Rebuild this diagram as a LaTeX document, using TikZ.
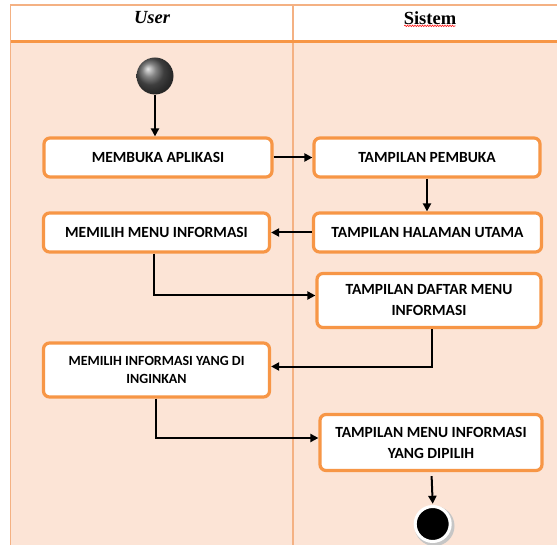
\documentclass[tikz,border=0pt]{standalone}
\usepackage{fontspec}
\setmainfont{Liberation Serif}
\newfontfamily\boxfont{Carlito}
\usetikzlibrary{arrows.meta,shadows,decorations.pathmorphing}
\definecolor{peach}{HTML}{FCE4D6}
\definecolor{lane}{HTML}{F4B183}
\definecolor{laneDark}{HTML}{F79646}
\definecolor{boxline}{HTML}{F79646}
\tikzset{
  act/.style={draw=boxline, line width=3.2pt, fill=white, rounded corners=6pt,
    font=\boxfont\bfseries\fontsize{15.5}{21}\selectfont, align=center, inner sep=0pt},
  flow/.style={draw=black, line width=2pt, -{Triangle[length=8pt,width=8pt]}},
  hdr/.style={font=\bfseries\fontsize{18.5}{20}\selectfont}
}
\begin{document}
\begin{tikzpicture}[x=1pt,y=-1pt]
\useasboundingbox (0,0) rectangle (557,545);
% lanes
\fill[peach] (10.5,42) rectangle (557,545);
\fill[white] (10.5,5) rectangle (557,42);
\draw[lane, line width=1.8pt] (10.5,545) -- (10.5,5) -- (557,5);
\draw[lane, line width=1.8pt] (293,5) -- (293,545);
\draw[laneDark, line width=2.8pt] (10.5,41.5) -- (557,41.5);
\node[hdr, font=\bfseries\itshape\fontsize{18.5}{20}\selectfont] (user) at (152,18) {User};
\node[hdr] (sistem) at (430,18) {Sistem};
\draw[red, line width=0.5pt, decorate, decoration={snake, amplitude=0.8pt, segment length=2.5pt}]
  ([yshift=-1.5pt,xshift=4pt]sistem.base west) -- ([yshift=-1.5pt,xshift=-4pt]sistem.base east);
% start
\shade[ball color=gray!70!black] (155,76) circle[radius=18.5];
\node[circle, minimum size=37pt, inner sep=0pt] (start) at (155,76) {};
% activities
\node[act, minimum width=228pt, minimum height=39pt] (a1) at (158,157.5) {MEMBUKA APLIKASI};
\node[act, minimum width=226pt, minimum height=39pt] (s1) at (427,157.5) {TAMPILAN PEMBUKA};
\node[act, minimum width=226pt, minimum height=39pt] (a2) at (156.5,232.5) {MEMILIH MENU INFORMASI};
\node[act, minimum width=228pt, minimum height=39pt] (s2) at (427.5,232.5) {TAMPILAN HALAMAN UTAMA};
\node[act, minimum width=224pt, minimum height=54pt] (s3) at (429,300.5) {TAMPILAN DAFTAR MENU\\INFORMASI};
\node[act, minimum width=226pt, minimum height=54pt, font=\boxfont\bfseries\fontsize{14}{17.5}\selectfont] (a3) at (156.5,370) {MEMILIH INFORMASI YANG DI\\INGINKAN};
\node[act, minimum width=222pt, minimum height=56pt] (s4) at (431,442.5) {TAMPILAN MENU INFORMASI\\YANG DIPILIH};
% end
\fill[gray!45] (434.5,526) circle[radius=20];
\draw[white, fill=black, line width=3pt] (432.7,524) circle[radius=17.5];
\node[circle, minimum size=38pt, inner sep=0pt] (end) at (432.7,524) {};
% flows
\draw[flow] (start.south) -- (start.south |- a1.north);
\draw[flow] (a1.east) -- (s1.west);
\draw[flow] (s1.south) -- (s1.south |- s2.north);
\draw[flow] (s2.west) -- (a2.east);
\draw[flow] (a2.south -| 153.5,0) |- (s3.west |- 0,295.5);
\draw[flow] (s3.south -| 432,0) |- (a3.east |- 0,366.5);
\draw[flow] (a3.south -| 156,0) |- (s4.west |- 0,438);
\draw[flow] ([yshift=-4pt]s4.south -| 431.6,0) -- ([yshift=1pt]end.north);
\end{tikzpicture}
\end{document}
